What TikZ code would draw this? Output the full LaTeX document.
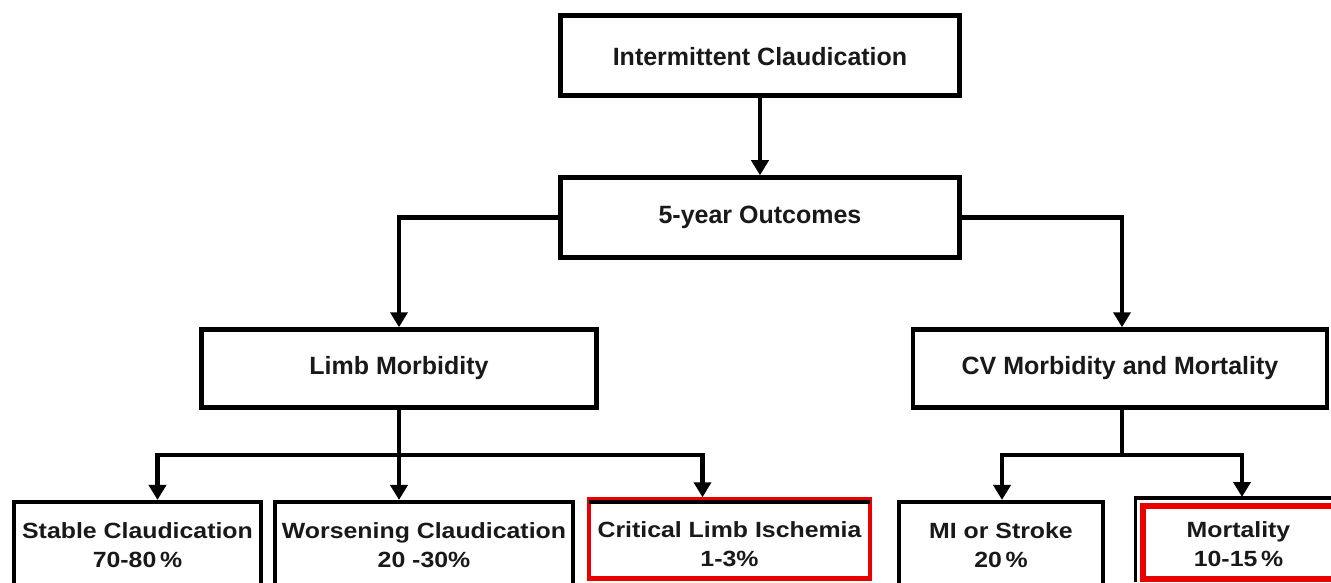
\documentclass[tikz,border=0pt]{standalone}
\usepackage{fontspec}
\setmainfont{Liberation Sans}
\newfontfamily\widefont[FakeStretch=1.13]{Liberation Sans}
\usetikzlibrary{arrows.meta}
\definecolor{boxred}{RGB}{235,0,0}
\definecolor{txt}{RGB}{25,25,25}
\newcommand{\firststrut}[1]{\rule{0pt}{#1pt}}
\begin{document}
\begin{tikzpicture}[x=1pt,y=-1pt,
  box/.style={draw=black, line width=4.5pt, fill=white, inner sep=0pt, align=center,
    text=txt, font=\fontsize{25}{30}\selectfont\bfseries},
  leaf/.style={box, minimum height=83pt, font=\widefont\fontsize{22}{29}\selectfont\bfseries},
  redleaf/.style={leaf, draw=boxred},
  ln/.style={line width=4.5pt},
  arr/.style={line width=4.5pt, -{Triangle[width=17pt,length=15pt]}}]
\useasboundingbox (0,0) rectangle (1331,583);
\clip (0,0) rectangle (1331,583);

\node[box, minimum width=399pt, minimum height=80pt] (ic) at (760,55.5) {\firststrut{21}Intermittent Claudication};
\node[box, minimum width=399pt, minimum height=80pt] (fy) at (760,217.5) {5-year Outcomes};
\node[box, minimum width=395pt, minimum height=78pt] (limb) at (399,368.5) {Limb Morbidity};
\node[box, minimum width=414pt, minimum height=78pt] (cv) at (1120,368.5) {CV Morbidity and Mortality};

\node[leaf, minimum width=247pt] (stable) at (137.5,543.7) {\firststrut{18}Stable Claudication\\70-80\,\%};
\node[leaf, minimum width=298pt] (worse) at (424,543.7) {\firststrut{18}Worsening Claudication\\20 -30\%};
\node[redleaf, minimum width=281pt, minimum height=79pt] (cli) at (729.5,539) {\firststrut{27}Critical Limb Ischemia\\1-3\%};
\node[leaf, minimum width=204pt] (mi) at (1001,543.7) {\firststrut{18}MI or Stroke\\20\,\%};
\node[redleaf, line width=6pt, minimum width=191pt, minimum height=73pt] (mort) at (1238.5,542.5) {\firststrut{20}Mortality\\10-15\,\%};

% black outlines showing beside the red boxes
\draw[ln] ([xshift=2.5pt,yshift=-4.5pt]cli.north west) -- ([xshift=-2.5pt,yshift=-4.5pt]cli.north east);
\draw[line width=3.5pt] ([xshift=-4.5pt]mort.south west) -- ([xshift=-4.5pt,yshift=5pt]mort.north west) -- ([yshift=5pt]mort.north east);

% connectors
\draw[arr] (ic.south) -- (fy.north);
\draw[arr] (fy.west) -| (limb.north);
\draw[arr] (fy.east) -| ([xshift=2pt]cv.north);

\coordinate (lj) at (399,455);
\draw[ln] (limb.south) -- (lj);
\draw[arr] (lj) -| ([xshift=20pt]stable.north);
\draw[arr] (lj) -- ([xshift=-25pt]worse.north);
\draw[arr] (lj) -| ([xshift=-27pt]cli.north);

\coordinate (cj) at (1122,455);
\draw[ln] ([xshift=2pt]cv.south) -- (cj);
\draw[arr] (cj) -| ([xshift=1pt]mi.north);
\draw[arr] (cj) -| ([xshift=3.5pt,yshift=6pt]mort.north);
\end{tikzpicture}
\end{document}
